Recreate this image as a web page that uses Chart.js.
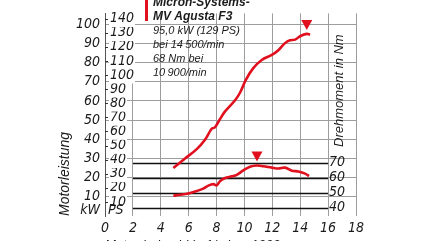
<!DOCTYPE html>
<html><head><meta charset="utf-8">
<script src="https://cdn.jsdelivr.net/npm/chart.js@4/dist/chart.umd.min.js"></script>
<style>html,body{margin:0;padding:0;background:#fff;overflow:hidden}#wrap{width:430px;height:241px;position:relative}</style>
</head><body><div id="wrap"><canvas id="c" width="430" height="241"></canvas></div>
<script>
// ---- data ----
const rpmPower = [4.9, 5.74, 6.58, 7.17, 7.65, 7.89, 8.25, 8.61, 9.33, 9.68, 10.1, 10.62, 11.24, 11.96, 12.41, 12.91, 13.27, 13.63, 13.99, 14.47, 14.71];
const powerKW  = [25.1, 30.0, 34.9, 39.8, 45.5, 46.3, 50.6, 54.6, 60.4, 64.3, 71.0, 77.0, 81.4, 84.0, 86.3, 90.2, 91.7, 92.0, 93.8, 95.0, 94.6];
const rpmTorque = [4.9, 5.38, 5.98, 6.58, 7.05, 7.41, 7.77, 8.01, 8.25, 8.61, 9.09, 9.45, 9.92, 10.4, 10.9, 11.36, 11.96, 12.43, 12.91, 13.39, 13.87, 14.35, 14.63];
const torqueNm  = [47.9, 48.5, 49.4, 51.0, 52.6, 54.6, 55.6, 54.8, 57.6, 59.7, 60.8, 61.8, 64.8, 67.2, 68.0, 67.5, 66.6, 66.0, 66.6, 64.6, 64.0, 62.6, 61.0];
const xTicks  = [0, 2, 4, 6, 8, 10, 12, 14, 16, 18];
const kwTicks = [10, 20, 30, 40, 50, 60, 70, 80, 90, 100];
const psTicks = [10, 20, 30, 40, 50, 60, 70, 80, 90, 100, 110, 120, 130, 140];
const nmTicks = [40, 50, 60, 70];
const legendBold = ['Micron-Systems-', 'MV Agusta F3'];
const legendText = ['95,0 kW (129 PS)', 'bei 14\u2009500/min', '68 Nm bei', '10\u2009900/min'];
const xTitle = 'Motordrehzahl in 1/min x 1000';
const leftTitle = 'Motorleistung';
const rightTitle = 'Drehmoment in Nm';
const KW_TO_PS = 1.35962;

const RED = '#e0101e';
const GRID = '#9d9d9d';
const TXT = '#1b1b1b';
const NARROW = "'Liberation Sans Narrow', 'DejaVu Sans Condensed', sans-serif";
const SANS = "'Liberation Sans', Arial, sans-serif";
const tickFont = {family: NARROW, size: 14, style: 'italic'};

const kwMax = 105.7, nmMin = 34.375, nmMax = 169.375;

const extras = {
  id: 'extras',
  beforeDatasetsDraw(chart) {
    const c = chart.ctx, x = chart.scales.x, nm = chart.scales.nm;
    c.save();
    c.strokeStyle = '#111'; c.lineWidth = 1.3;
    nmTicks.forEach(v => {
      const y = Math.round(nm.getPixelForValue(v)) + 0.5;
      c.beginPath(); c.moveTo(x.getPixelForValue(2), y); c.lineTo(x.getPixelForValue(16), y); c.stroke();
    });
    c.restore();
  },
  afterDraw(chart) {
    const c = chart.ctx, x = chart.scales.x, kw = chart.scales.kw, ps = chart.scales.ps, nm = chart.scales.nm;
    const area = chart.chartArea;
    c.save();
    // PS tick dashes
    c.strokeStyle = '#333'; c.lineWidth = 1;
    psTicks.forEach(v => {
      const y = Math.round(ps.getPixelForValue(v)) + 0.5;
      c.beginPath(); c.moveTo(area.left, y); c.lineTo(area.left + 3, y); c.stroke();
    });
    // unit labels at bottom of left axes
    c.fillStyle = TXT; c.font = 'italic 14px ' + NARROW; c.textBaseline = 'middle';
    c.textAlign = 'right'; c.fillText('kW', area.left - 5, area.bottom - 6);
    c.textAlign = 'left'; c.fillText('PS', area.left + 3, area.bottom - 6);
    // right axis title, reading upwards
    c.save();
    c.translate(x.getPixelForValue(16) + 11, area.bottom - 69);
    c.rotate(-Math.PI / 2);
    c.font = 'italic 13px ' + SANS; c.textAlign = 'left'; c.textBaseline = 'middle';
    c.fillText(rightTitle, 0, 0);
    c.restore();
    // peak markers
    c.fillStyle = RED;
    const tri = (px, py) => {
      c.beginPath(); c.moveTo(px - 5.5, py - 14); c.lineTo(px + 5.5, py - 14); c.lineTo(px, py - 4); c.closePath(); c.fill();
    };
    const ip = powerKW.indexOf(Math.max(...powerKW));
    tri(x.getPixelForValue(rpmPower[ip]), kw.getPixelForValue(powerKW[ip]));
    const it = torqueNm.indexOf(Math.max(...torqueNm));
    tri(x.getPixelForValue(rpmTorque[it]), nm.getPixelForValue(torqueNm[it]));
    // legend block
    c.fillRect(145, 0, 3, 21);
    c.fillStyle = TXT; c.textAlign = 'left'; c.textBaseline = 'alphabetic';
    c.font = 'italic bold 12px ' + SANS;
    c.fillText(legendBold[0], 153, 6);
    c.fillText(legendBold[1], 153, 19.5);
    c.font = 'italic 11px ' + SANS;
    [34, 48, 62, 76].forEach((b, i) => c.fillText(legendText[i], 153, b));
    c.restore();
  }
};

new Chart(document.getElementById('c'), {
  type: 'line',
  data: {
    datasets: [
      {label: 'Leistung', data: rpmPower.map((r, i) => ({x: r, y: powerKW[i]})), yAxisID: 'kw',
       borderColor: RED, borderWidth: 2.6, pointRadius: 0, tension: 0.35, fill: false},
      {label: 'Drehmoment', data: rpmTorque.map((r, i) => ({x: r, y: torqueNm[i]})), yAxisID: 'nm',
       borderColor: RED, borderWidth: 2.6, pointRadius: 0, tension: 0.35, fill: false}
    ]
  },
  options: {
    responsive: false, animation: false, devicePixelRatio: 1,
    layout: {padding: {left: 0, right: 74, top: 0, bottom: 0}},
    plugins: {legend: {display: false}, tooltip: {enabled: false}},
    scales: {
      x: {
        type: 'linear', position: 'bottom', min: 0, max: 18,
        afterBuildTicks: s => { s.ticks = xTicks.map(v => ({value: v})); },
        afterFit: s => { s.height = 25; },
        grid: {color: GRID, drawTicks: false, lineWidth: 1},
        border: {display: false},
        ticks: {padding: 4, font: tickFont, color: TXT, maxRotation: 0, autoSkip: false},
        title: {display: true, text: xTitle, align: 'start', color: TXT,
                font: {family: SANS, size: 13, style: 'italic'}, padding: {top: 0, bottom: -12}}
      },
      kw: {
        type: 'linear', position: 'left', weight: 2, min: 0, max: kwMax,
        afterBuildTicks: s => { s.ticks = kwTicks.map(v => ({value: v})); },
        afterFit: s => { s.width = 105; },
        grid: {color: GRID, drawTicks: false, lineWidth: 1},
        border: {display: true, color: '#555'},
        ticks: {padding: 5, font: tickFont, color: TXT, autoSkip: false},
        title: {display: true, text: leftTitle, align: 'start', color: TXT,
                font: {family: SANS, size: 14, style: 'italic'}, padding: {top: 56.6, bottom: 0}}
      },
      ps: {
        type: 'linear', position: 'left', weight: 1, min: 0, max: kwMax * KW_TO_PS,
        afterBuildTicks: s => { s.ticks = psTicks.map(v => ({value: v})); },
        afterFit: s => { s.width = 0; },
        grid: {drawOnChartArea: false, drawTicks: false},
        border: {display: false},
        ticks: {mirror: true, padding: 5, font: tickFont, color: TXT, autoSkip: false,
                showLabelBackdrop: true, backdropColor: '#fff', backdropPadding: {top: 0, bottom: 0, left: 1, right: 1}}
      },
      nm: {
        type: 'linear', position: 'right', min: nmMin, max: nmMax,
        afterBuildTicks: s => { s.ticks = nmTicks.map(v => ({value: v})); },
        afterFit: s => { s.width = 0; },
        grid: {drawOnChartArea: false, drawTicks: false},
        border: {display: false},
        ticks: {mirror: true, padding: -11, font: tickFont, color: TXT, autoSkip: false}
      }
    }
  },
  plugins: [extras]
});
</script></body></html>
